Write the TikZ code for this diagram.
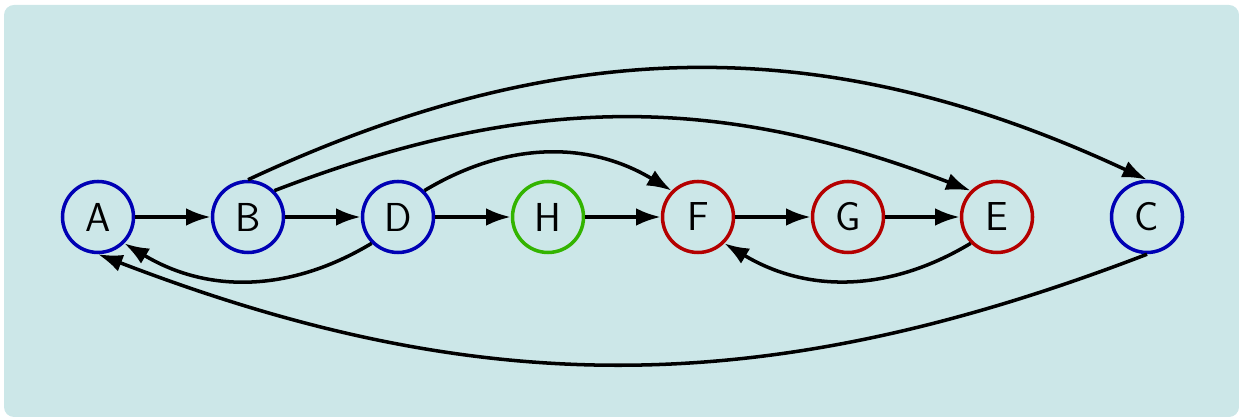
\documentclass[tikz,border=0pt]{standalone}
\usepackage{tikz}
\usetikzlibrary{arrows.meta}
\definecolor{BoxBg}{RGB}{204,231,232}
\definecolor{NodeBlue}{RGB}{0,0,180}
\definecolor{NodeRed}{RGB}{180,0,0}
\definecolor{NodeGreen}{RGB}{51,180,0}

\begin{document}
\begin{tikzpicture}[line width=2pt, >={Latex[length=14pt,width=10pt]},
    every node/.style={circle, draw, minimum size=1.42cm, inner sep=0pt,
      font=\sffamily\fontsize{23}{27}\selectfont}]
    \useasboundingbox (0,0) rectangle (24.78,8.38);
    \fill[BoxBg, rounded corners=0.2cm] (0.08,0.04) rectangle (24.78,8.28);% Background box

    % The vertices, one row
    \node[draw=NodeBlue]  (A) at (1.96,4.04)  {A};
    \node[draw=NodeBlue]  (B) at (4.96,4.04)  {B};
    \node[draw=NodeBlue]  (D) at (7.96,4.04)  {D};
    \node[draw=NodeGreen] (H) at (10.96,4.04) {H};
    \node[draw=NodeRed]   (F) at (13.96,4.04) {F};
    \node[draw=NodeRed]   (G) at (16.96,4.04) {G};
    \node[draw=NodeRed]   (E) at (19.94,4.04) {E};
    \node[draw=NodeBlue]  (C) at (22.94,4.04) {C};

    \foreach \a/\b in {A/B,B/D,D/H,H/F,F/G,G/E}{% Straight edges along the row
      \draw[->] (\a) -- (\b);
    }
    % Curved edges above the row
    \draw[->] (B.north) to[bend left=25] (C.north);
    \draw[->] (B.north east) to[bend left=21] (E.north west);
    \draw[->] (D.north east) to[bend left=31] (F.north west);
    % Curved edges below the row
    \draw[->] (D.south west) to[bend left=31] (A.south east);
    \draw[->] (E.south west) to[bend left=31] (F.south east);
    \draw[->] (C.south) to[bend left=21] (A.south);
\end{tikzpicture}
\end{document}
